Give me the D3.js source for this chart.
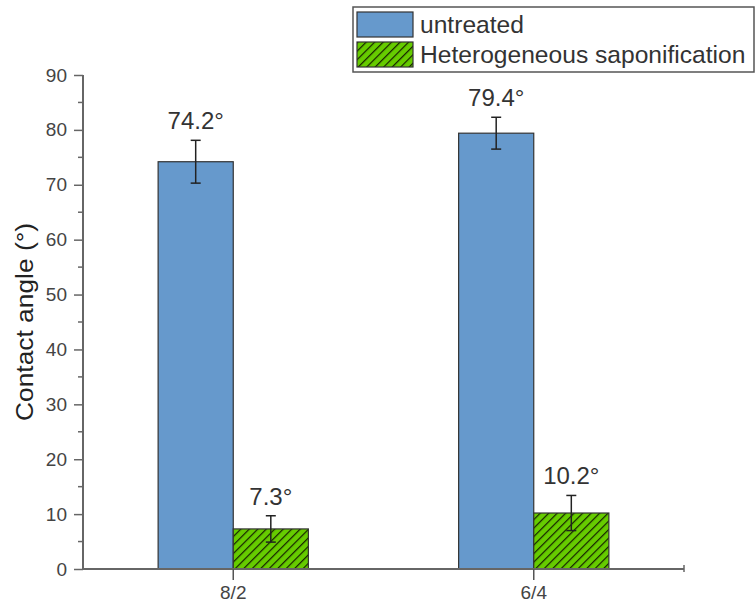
<!DOCTYPE html>
<html>
<head>
<meta charset="utf-8">
<script src="https://cdn.jsdelivr.net/npm/d3@7"></script>
<style>
  html, body { margin: 0; padding: 0; background: #fff; }
  svg { display: block; font-family: "Liberation Sans", Arial, sans-serif; }
</style>
</head>
<body>
<svg id="chart" width="756" height="609"></svg>
<script>
// Contact angle by blend ratio, before and after heterogeneous saponification
const groups = ["8/2", "6/4"];
const seriesNames = ["untreated", "Heterogeneous saponification"];
const untreated = [74.2, 79.4];
const untreatedErr = [3.9, 2.9];
const saponified = [7.3, 10.2];
const saponifiedErr = [2.4, 3.2];
const yTicks = [0, 10, 20, 30, 40, 50, 60, 70, 80, 90];

const svg = d3.select("#chart");
const plotLeft = 83, plotRight = 684, plotTop = 75, plotBottom = 569;

const x = d3.scaleBand().domain(groups).range([plotLeft, plotRight]).paddingInner(0.5).paddingOuter(0.25);
const xs = d3.scaleBand().domain(seriesNames).range([0, x.bandwidth()]);
const y = d3.scaleLinear().domain([0, 90]).range([plotBottom, plotTop]);

// diagonal hatch for the saponified series
const defs = svg.append("defs");
const pat = defs.append("pattern")
  .attr("id", "hatch")
  .attr("patternUnits", "userSpaceOnUse")
  .attr("width", 6).attr("height", 6)
  .attr("patternTransform", "rotate(45)");
pat.append("rect").attr("width", 6).attr("height", 6).attr("fill", "#66cc00");
pat.append("line").attr("x1", 0.6).attr("y1", 0).attr("x2", 0.6).attr("y2", 6)
  .attr("stroke", "#142000").attr("stroke-width", 1.2);

const fills = ["#6699cc", "url(#hatch)"];

const rows = groups.map((g, i) => ({
  group: g,
  bars: [
    { series: seriesNames[0], value: untreated[i], err: untreatedErr[i], fill: fills[0] },
    { series: seriesNames[1], value: saponified[i], err: saponifiedErr[i], fill: fills[1] }
  ]
}));

const gGroups = svg.append("g").selectAll("g").data(rows).join("g")
  .attr("transform", d => `translate(${x(d.group)},0)`);

gGroups.selectAll("rect").data(d => d.bars).join("rect")
  .attr("x", d => xs(d.series))
  .attr("y", d => y(d.value))
  .attr("width", xs.bandwidth())
  .attr("height", d => y(0) - y(d.value))
  .attr("fill", d => d.fill)
  .attr("stroke", "#333")
  .attr("stroke-width", 1.2);

// error bars
const cx = d => xs(d.series) + xs.bandwidth() / 2;
const eb = gGroups.selectAll("g.err").data(d => d.bars).join("g").attr("class", "err")
  .attr("stroke", "#222").attr("stroke-width", 1.5);
eb.append("line")
  .attr("x1", cx).attr("x2", cx)
  .attr("y1", d => y(d.value + d.err))
  .attr("y2", d => y(d.value - d.err));
eb.append("line")
  .attr("x1", d => cx(d) - 5).attr("x2", d => cx(d) + 5)
  .attr("y1", d => y(d.value + d.err))
  .attr("y2", d => y(d.value + d.err));
eb.append("line")
  .attr("x1", d => cx(d) - 5).attr("x2", d => cx(d) + 5)
  .attr("y1", d => y(d.value - d.err))
  .attr("y2", d => y(d.value - d.err));

// value labels
gGroups.selectAll("text.val").data(d => d.bars).join("text").attr("class", "val")
  .attr("x", cx)
  .attr("y", d => y(d.value + d.err) - 11)
  .attr("text-anchor", "middle")
  .attr("font-size", 24)
  .attr("fill", "#333")
  .text(d => d.value.toFixed(1) + "°");

// y axis
const yAxis = svg.append("g").attr("transform", `translate(${plotLeft},0)`)
  .call(d3.axisLeft(y).tickValues(yTicks).tickSize(9).tickPadding(7));
yAxis.selectAll(".tick text").attr("font-size", 19).attr("fill", "#444")
  .attr("font-family", "Liberation Sans, Arial, sans-serif");
yAxis.selectAll(".tick line").attr("stroke", "#666").attr("stroke-width", 1.5);
yAxis.select(".domain").attr("stroke", "#666").attr("stroke-width", 2)
  .attr("d", `M0,${plotBottom}V${plotTop}`);
// minor ticks
svg.append("g").selectAll("line").data(d3.range(5, 90, 10)).join("line")
  .attr("x1", plotLeft - 5).attr("x2", plotLeft)
  .attr("y1", d => y(d)).attr("y2", d => y(d))
  .attr("stroke", "#666").attr("stroke-width", 1.5);

// x axis
const xAxis = svg.append("g").attr("transform", `translate(0,${plotBottom})`)
  .call(d3.axisBottom(x).tickSize(11).tickPadding(6));
xAxis.selectAll(".tick text").attr("font-size", 19).attr("fill", "#444")
  .attr("font-family", "Liberation Sans, Arial, sans-serif");
xAxis.selectAll(".tick line").attr("stroke", "#555").attr("stroke-width", 1.5);
xAxis.select(".domain").attr("stroke", "#666").attr("stroke-width", 2)
  .attr("d", `M${plotLeft},0H${plotRight}`);
svg.append("line").attr("x1", plotRight).attr("x2", plotRight)
  .attr("y1", plotBottom - 4).attr("y2", plotBottom + 3)
  .attr("stroke", "#666").attr("stroke-width", 1.5);

// y axis title
svg.append("text")
  .attr("transform", `translate(33,${(plotTop + plotBottom) / 2}) rotate(-90)`)
  .attr("text-anchor", "middle")
  .attr("font-size", 23)
  .attr("fill", "#222")
  .attr("textLength", 198)
  .attr("lengthAdjust", "spacingAndGlyphs")
  .text("Contact angle (°)");

// legend
const lg = svg.append("g");
lg.append("rect").attr("x", 353).attr("y", 7).attr("width", 401).attr("height", 65)
  .attr("fill", "#fff").attr("stroke", "#555").attr("stroke-width", 1.5);
const items = lg.selectAll("g").data(seriesNames).join("g")
  .attr("transform", (d, i) => `translate(357,${12 + i * 30})`);
items.append("rect").attr("width", 56).attr("height", 25)
  .attr("fill", (d, i) => fills[i]).attr("stroke", "#333").attr("stroke-width", 1.2);
items.append("text").attr("x", 63).attr("y", 21)
  .attr("font-size", 24.6).attr("fill", "#333").text(d => d);
</script>
</body>
</html>
